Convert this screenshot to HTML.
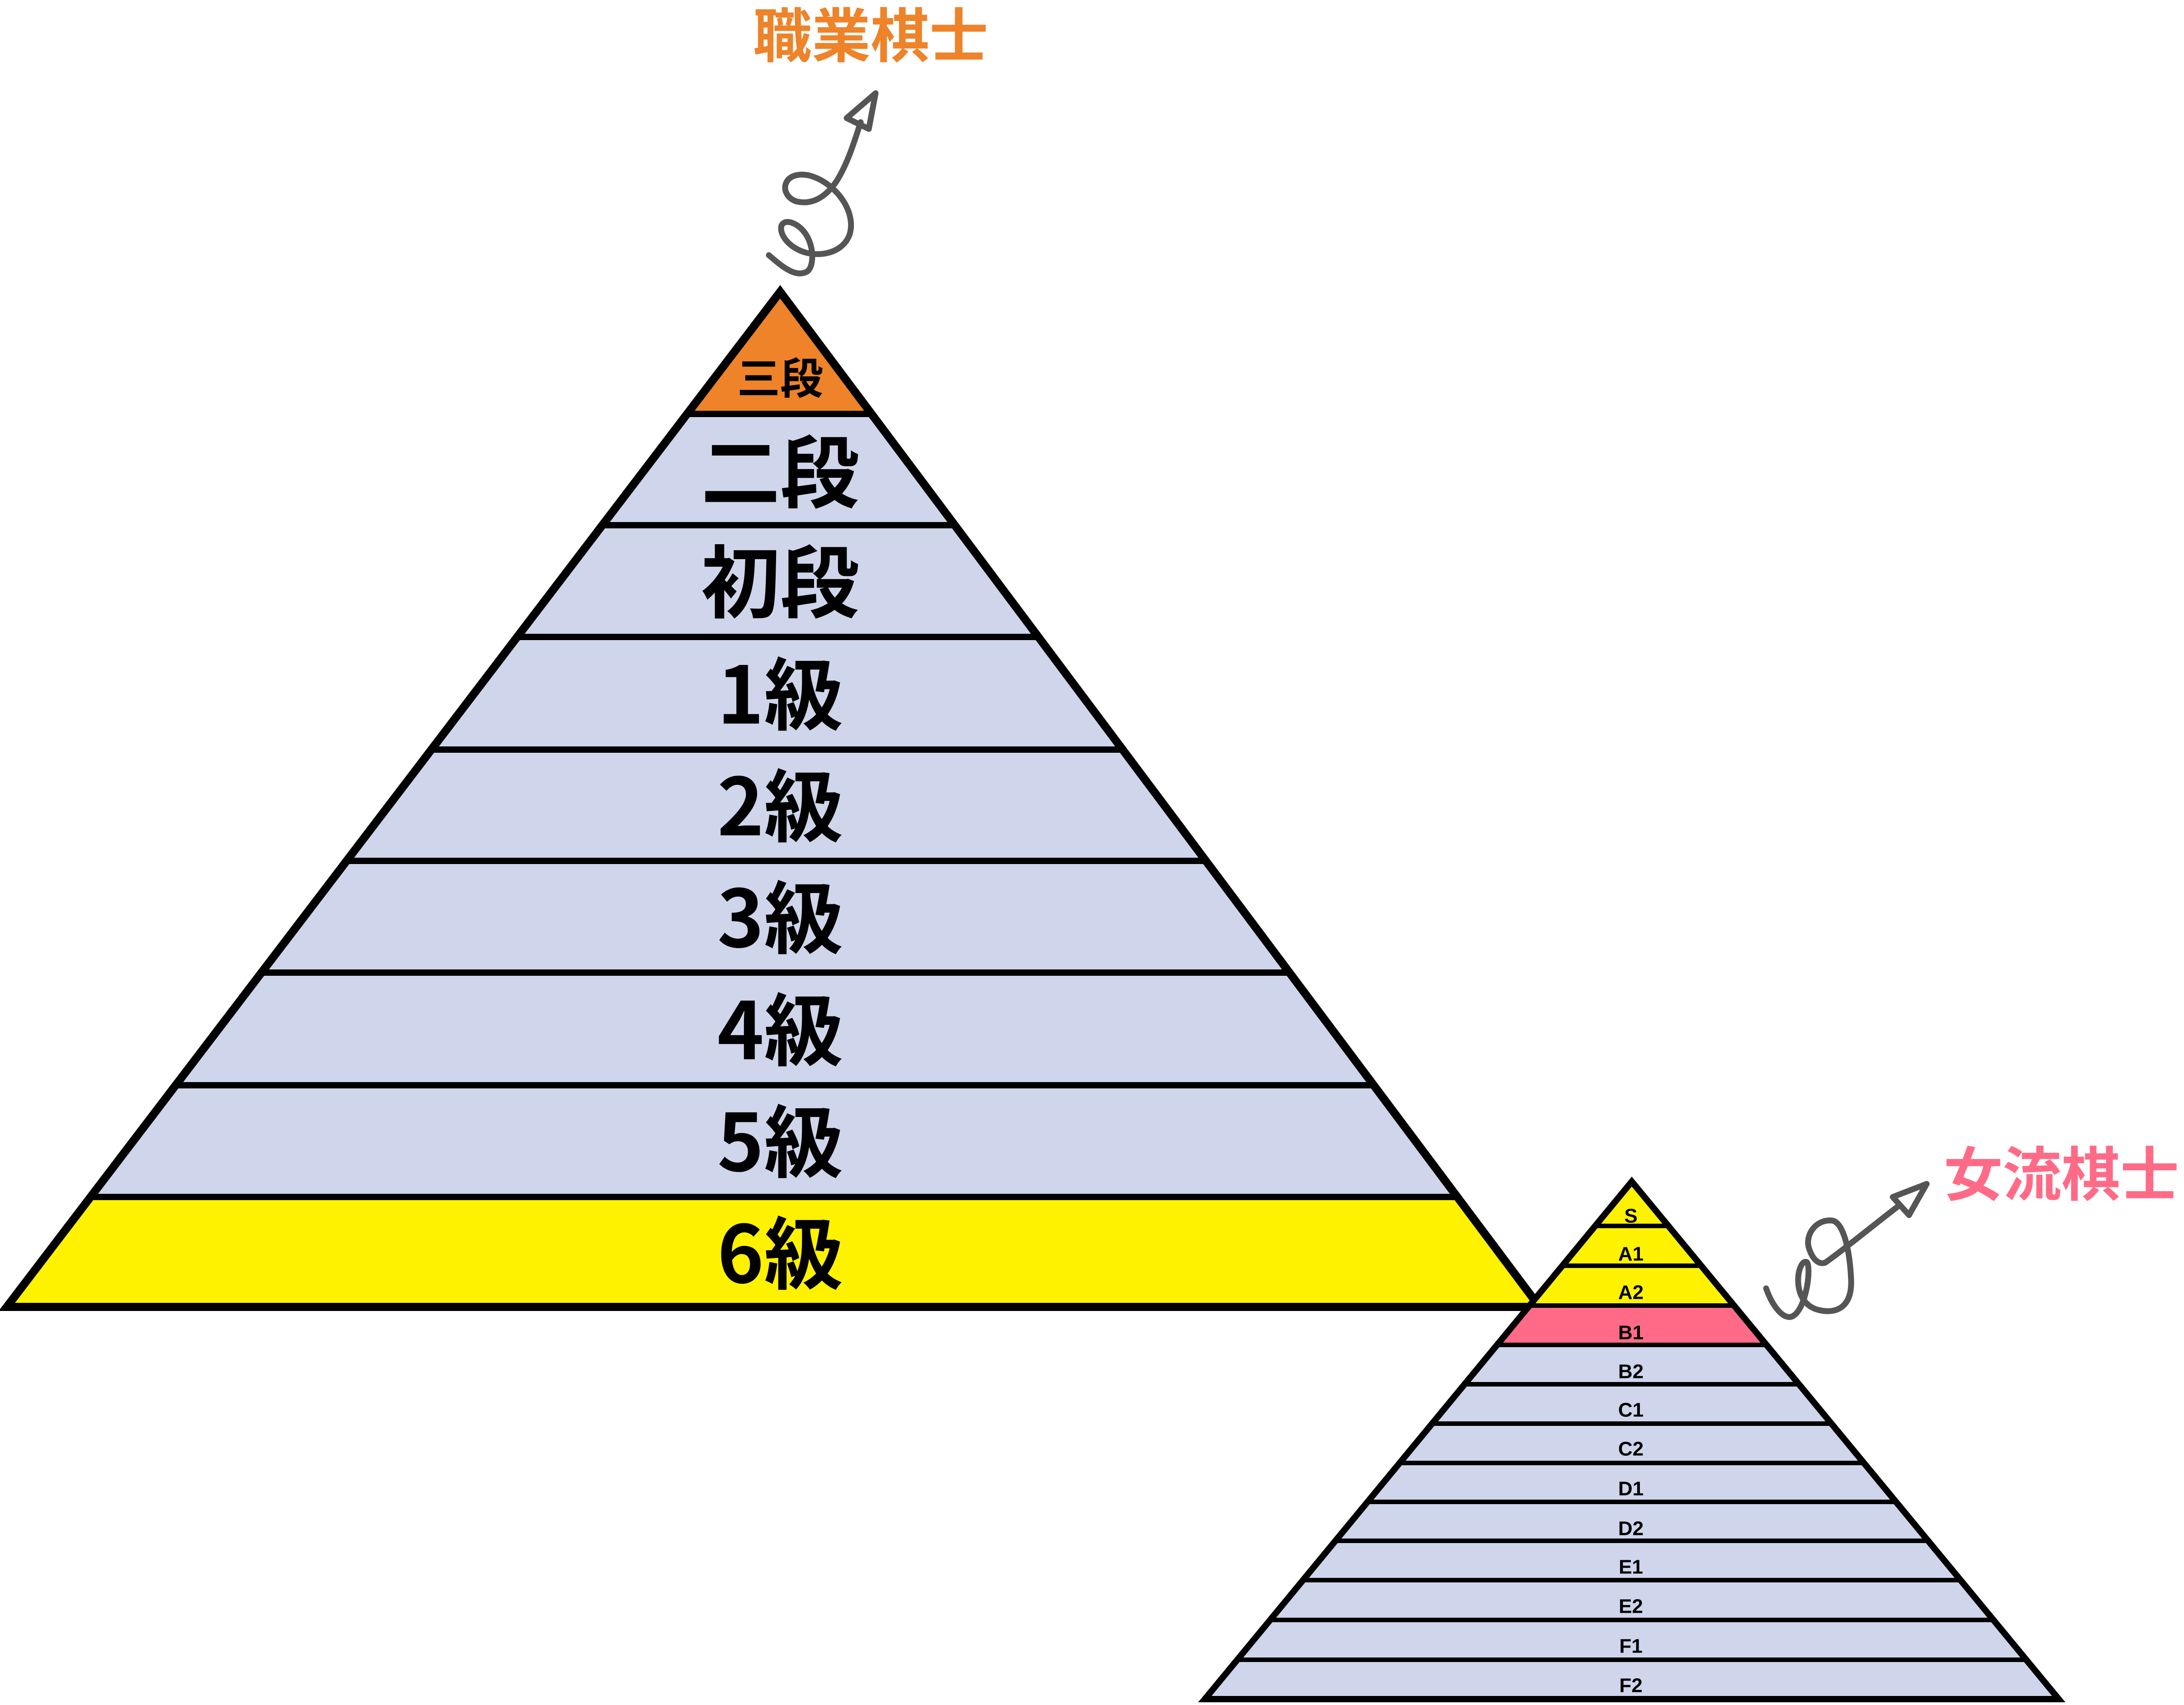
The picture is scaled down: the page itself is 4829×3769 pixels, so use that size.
<!DOCTYPE html>
<html><head><meta charset="utf-8"><style>
html,body{margin:0;padding:0;background:#fff;width:4829px;height:3769px;overflow:hidden}
svg{display:block}
text{font-family:"Liberation Sans","Noto Sans CJK JP",sans-serif;font-weight:bold;text-anchor:middle;dominant-baseline:central}
.cj{font-family:"Noto Sans CJK JP","Liberation Sans",sans-serif}
</style></head><body>
<svg width="4829" height="3769" viewBox="0 0 4829 3769" xmlns="http://www.w3.org/2000/svg">
<defs>
<clipPath id="c1"><polygon points="1725,645 15,2889 3404,2889"/></clipPath>
<clipPath id="c2"><polygon points="3608,2612 2664,3756 4552,3756"/></clipPath>
</defs>
<g clip-path="url(#c1)">
<rect x="0" y="600" width="3500" height="320" fill="#EE8329"/>
<rect x="0" y="915" width="3500" height="1731" fill="#CFD5EA"/>
<rect x="0" y="2646" width="3500" height="260" fill="#FFF200"/>
<g stroke="#000" stroke-width="14">
<line x1="0" y1="915" x2="3500" y2="915"/>
<line x1="0" y1="1161" x2="3500" y2="1161"/>
<line x1="0" y1="1408" x2="3500" y2="1408"/>
<line x1="0" y1="1657" x2="3500" y2="1657"/>
<line x1="0" y1="1903" x2="3500" y2="1903"/>
<line x1="0" y1="2150" x2="3500" y2="2150"/>
<line x1="0" y1="2399" x2="3500" y2="2399"/>
<line x1="0" y1="2646" x2="3500" y2="2646"/>
</g>
</g>
<polygon points="1725,645 15,2889 3404,2889" fill="none" stroke="#000" stroke-width="18"/>
<g fill="#000">
<text class="cj" x="1725" y="830" font-size="95">三段</text>
<text class="cj" x="1725" y="1033" font-size="175">二段</text>
<text class="cj" x="1725" y="1276" font-size="175">初段</text>
<text class="cj" x="1725" y="1524" font-size="175">1級</text>
<text class="cj" x="1725" y="1771" font-size="175">2級</text>
<text class="cj" x="1725" y="2018" font-size="175">3級</text>
<text class="cj" x="1725" y="2266" font-size="175">4級</text>
<text class="cj" x="1725" y="2513" font-size="175">5級</text>
<text class="cj" x="1725" y="2760" font-size="175">6級</text>
</g>
<g clip-path="url(#c2)">
<rect x="2600" y="2600" width="2000" height="290" fill="#FFF200"/>
<rect x="2600" y="2886" width="2000" height="87" fill="#FF6B87"/>
<rect x="2600" y="2973" width="2000" height="800" fill="#CFD5EA"/>
<g stroke="#000" stroke-width="10">
<line x1="2600" y1="2710" x2="4600" y2="2710"/>
<line x1="2600" y1="2798" x2="4600" y2="2798"/>
<line x1="2600" y1="2886" x2="4600" y2="2886"/>
<line x1="2600" y1="2973" x2="4600" y2="2973"/>
<line x1="2600" y1="3060" x2="4600" y2="3060"/>
<line x1="2600" y1="3147" x2="4600" y2="3147"/>
<line x1="2600" y1="3234" x2="4600" y2="3234"/>
<line x1="2600" y1="3320" x2="4600" y2="3320"/>
<line x1="2600" y1="3406" x2="4600" y2="3406"/>
<line x1="2600" y1="3493" x2="4600" y2="3493"/>
<line x1="2600" y1="3581" x2="4600" y2="3581"/>
<line x1="2600" y1="3669" x2="4600" y2="3669"/>
</g>
</g>
<polygon points="3608,2612 2664,3756 4552,3756" fill="none" stroke="#000" stroke-width="14"/>
<g fill="#000" font-size="44">
<text x="3606" y="2688">S</text>
<text x="3606" y="2772">A1</text>
<text x="3606" y="2857">A2</text>
<text x="3606" y="2946">B1</text>
<text x="3606" y="3032">B2</text>
<text x="3606" y="3117">C1</text>
<text x="3606" y="3203">C2</text>
<text x="3606" y="3291">D1</text>
<text x="3606" y="3379">D2</text>
<text x="3606" y="3464">E1</text>
<text x="3606" y="3551">E2</text>
<text x="3606" y="3639">F1</text>
<text x="3606" y="3726">F2</text>
</g>
<text class="cj" x="1925" y="70" font-size="130" fill="#EE8329">職業棋士</text>
<text class="cj" x="4558" y="2587" font-size="130" fill="#FF6B87">女流棋士</text>
<g fill="none" stroke="#555" stroke-width="13" stroke-linecap="round" stroke-linejoin="round">
<path d="M1700,564 C1730,590 1760,615 1785,600 C1805,585 1800,510 1750,492 C1715,482 1720,530 1765,552 C1800,570 1860,565 1878,520 C1895,470 1850,405 1790,388 C1730,375 1720,430 1760,445 C1800,455 1830,430 1850,400 C1875,360 1890,310 1903,270"/>
<polygon points="1936,206 1872,261 1921,285"/>
<path d="M3905,2848 C3920,2890 3945,2920 3965,2909 C3995,2890 4005,2800 3995,2790 C3975,2780 3955,2880 4022,2896 C4060,2905 4095,2890 4093,2830 C4090,2760 4075,2700 4050,2698 C4015,2695 3990,2730 4000,2760 C4010,2790 4025,2795 4036,2791 C4080,2760 4140,2710 4195,2668"/>
<polygon points="4260,2617 4185,2646 4221,2686"/>
</g>
</svg>
</body></html>
